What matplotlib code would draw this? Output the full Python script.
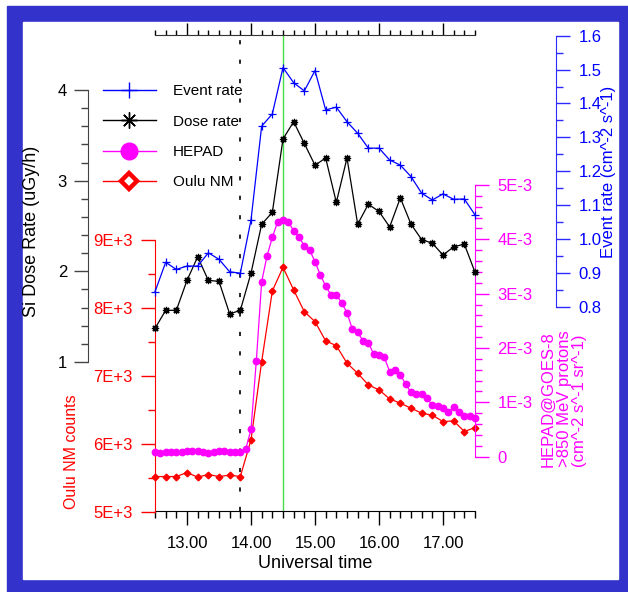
import numpy as np
import matplotlib
matplotlib.use('Agg')
import matplotlib.pyplot as plt
from matplotlib.ticker import MultipleLocator, FuncFormatter
from matplotlib.lines import Line2D
from matplotlib.patches import Rectangle

plt.rcParams['font.family'] = ['Liberation Sans', 'DejaVu Sans']
plt.rcParams['lines.scale_dashes'] = False

W, H, DPI = 628, 592, 100
PT = 72.0 / DPI

# ---------------- data ----------------
t_10min = np.linspace(12.5, 17.5, 31)
t_5min = np.linspace(12.5, 17.5, 61)

dose_rate = [1.37, 1.57, 1.57, 1.90, 2.16, 1.90, 1.89, 1.53, 1.57, 1.98,
             2.52, 2.65, 3.46, 3.65, 3.41, 3.17, 3.25, 2.76, 3.25, 2.52,
             2.74, 2.66, 2.49, 2.81, 2.52, 2.35, 2.31, 2.18, 2.27, 2.30, 1.99]

event_rate = [0.844, 0.931, 0.910, 0.920, 0.920, 0.959, 0.940, 0.903, 0.899, 1.056,
              1.333, 1.369, 1.506, 1.461, 1.437, 1.497, 1.381, 1.389, 1.346, 1.312,
              1.268, 1.268, 1.233, 1.218, 1.184, 1.135, 1.115, 1.133, 1.117, 1.118, 1.071]

hepad_e3 = [0.092, 0.074, 0.092, 0.086, 0.086, 0.092, 0.098, 0.105, 0.098, 0.092,
            0.074, 0.086, 0.100, 0.098, 0.092, 0.092, 0.092, 0.135, 0.503, 1.767,
            3.221, 3.693, 4.037, 4.324, 4.356, 4.319, 4.160, 4.040, 3.880, 3.800,
            3.590, 3.344, 3.140, 2.976, 2.976, 2.834, 2.650, 2.350, 2.289, 2.135,
            2.098, 1.890, 1.870, 1.830, 1.564, 1.595, 1.503, 1.338, 1.185, 1.154,
            1.154, 1.074, 0.951, 0.939, 0.890, 0.828, 0.909, 0.828, 0.754, 0.754, 0.707]
hepad = [v * 1e-3 for v in hepad_e3]

oulu_nm = [5515, 5515, 5515, 5574, 5506, 5545, 5515, 5536, 5515, 6056,
           7208, 8249, 8598, 8264, 7944, 7797, 7513, 7444, 7185, 7037,
           6865, 6792, 6659, 6596, 6522, 6449, 6419, 6325, 6335, 6178, 6237]

x_major = [13, 14, 15, 16, 17]
onset_time = 13.833
peak_time = 14.5

BLUE = '#0000ff'
BLUE_AX = '#2a2aff'
MAG = '#ff00ff'
RED = '#ff0000'
GREEN = '#44dd44'
FRAME = '#3333cc'


def fx(px):
    return px / W


def fy(py):
    return 1 - py / H


fig = plt.figure(figsize=(W / DPI, H / DPI), dpi=DPI, facecolor='white')

# frame
fig.patches.append(Rectangle((fx(7), fy(592)), fx(628) - fx(7), fy(6) - fy(592),
                             transform=fig.transFigure, color=FRAME, zorder=-3))
fig.patches.append(Rectangle((fx(22.7), fy(579)), fx(618.3) - fx(22.7), fy(21.5) - fy(579),
                             transform=fig.transFigure, color='white', zorder=-2))


def axes_at(x0, x1, ytop, ybot):
    return fig.add_axes([fx(x0), fy(ybot), fx(x1) - fx(x0), (ybot - ytop) / H])


# ---------- base axes (time axis) ----------
ax = axes_at(155, 475, 35, 511)
ax.patch.set_visible(False)
ax.set_xlim(12.5, 17.5)
ax.set_ylim(0, 1)
ax.spines['left'].set_visible(False)
ax.spines['right'].set_visible(False)
ax.spines['top'].set_color('#333333')
ax.set_yticks([])
ax.xaxis.set_major_locator(plt.FixedLocator(x_major))
ax.xaxis.set_minor_locator(MultipleLocator(1 / 6))
ax.xaxis.set_major_formatter(FuncFormatter(lambda v, p: f"{v:.2f}"))
ax.tick_params(axis='x', which='major', direction='out', length=14 * PT, width=1,
               labelsize=12, pad=8, top=True, bottom=True)
ax.tick_params(axis='x', which='minor', direction='out', length=7 * PT, width=1,
               top=True, bottom=True)
for tk in ax.xaxis.get_major_ticks():
    tk.tick2line.set_markersize(12 * PT)
for tk in ax.xaxis.get_minor_ticks():
    tk.tick2line.set_markersize(5 * PT)
ax.axvline(peak_time, color=GREEN, lw=1.0, zorder=1)
ax.axvline(onset_time, color='black', lw=1.2, dashes=(3.0, 11.0), zorder=1)


def overlay(x0, x1, ytop, ybot, ylim, side, outward_px, color, major, minor, fmt):
    a = axes_at(x0, x1, ytop, ybot)
    a.patch.set_visible(False)
    a.set_xlim(12.5, 17.5)
    a.set_ylim(*ylim)
    a.xaxis.set_visible(False)
    for s in ['top', 'bottom', 'left', 'right']:
        a.spines[s].set_visible(s == side)
    a.spines[side].set_color(color)
    a.spines[side].set_position(('outward', outward_px * PT))
    if side == 'right':
        a.yaxis.tick_right()
    else:
        a.yaxis.tick_left()
    a.yaxis.set_major_locator(MultipleLocator(major))
    a.yaxis.set_minor_locator(MultipleLocator(minor))
    a.yaxis.set_major_formatter(FuncFormatter(fmt))
    a.tick_params(axis='y', which='major', direction='out', length=14 * PT, width=1,
                  color=color, labelcolor=color, labelsize=12, pad=6)
    a.tick_params(axis='y', which='minor', direction='out', length=7 * PT, width=1,
                  color=color)
    return a


ax_oulu = overlay(155, 475, 240, 511.5, (5000, 9000), 'left', 0, RED, 1000, 500,
                  lambda v, p: f"{int(round(v / 1000))}E+3")
ax_hep = overlay(155, 475, 185, 456.7, (0, 5e-3), 'right', 0, MAG, 1e-3, 0.2e-3,
                 lambda v, p: "0" if abs(v) < 1e-9 else f"{int(round(v * 1e3))}E-3")
ax_dose = overlay(155, 475, 90, 362, (1, 4), 'left', 67, '#444444', 1, 0.2,
                  lambda v, p: f"{int(round(v))}")
ax_evt = overlay(155, 475, 35.7, 306.7, (0.8, 1.6), 'right', 81, BLUE_AX, 0.1, 0.05,
                 lambda v, p: f"{v:.1f}")
ax_dose.tick_params(axis='y', labelcolor='black', pad=5)
ax_evt.tick_params(axis='y', labelcolor=BLUE)

ax_oulu.plot(t_10min, oulu_nm, color=RED, lw=0.9, marker='D', ms=3.4, mec=RED, mfc=RED,
             clip_on=False)
ax_hep.plot(t_5min, hepad, color=MAG, lw=0.9, marker='o', ms=4.6, mec=MAG, mfc=MAG,
            clip_on=False)
ax_dose.plot(t_10min, dose_rate, color='black', lw=0.9, marker=(8, 2, 0), ms=5.2, mew=0.9,
             clip_on=False)
ax_evt.plot(t_10min, event_rate, color=BLUE, lw=0.9, marker='+', ms=5.5, mew=0.9,
            clip_on=False)

# legend
handles = [
    Line2D([], [], color=BLUE, lw=1, marker='+', ms=11.5, mew=1),
    Line2D([], [], color='black', lw=1, marker=(8, 2, 0), ms=11.5, mew=1),
    Line2D([], [], color=MAG, lw=1, marker='o', ms=12, mfc=MAG, mec=MAG),
    Line2D([], [], color=RED, lw=1, marker='D', ms=8, mfc='white', mec=RED, mew=3.2),
]
labels = ['Event rate', 'Dose rate', 'HEPAD', 'Oulu NM']
fig.legend(handles, labels, loc='upper left', bbox_to_anchor=(fx(103), fy(84)),
           frameon=False, fontsize=11, handlelength=3.45, handletextpad=1.1,
           labelspacing=1.08, borderaxespad=0, borderpad=0)

# axis titles
fig.text(fx(32), fy(231), 'Si Dose Rate (uGy/h)', rotation=90, ha='center', va='center',
         fontsize=13, color='black')
fig.text(fx(72), fy(452), 'Oulu NM counts', rotation=90, ha='center', va='center',
         fontsize=11.5, color=RED)
fig.text(fx(609), fy(172), 'Event rate (cm^-2 s^-1)', rotation=90, ha='center', va='center',
         fontsize=12, color=BLUE)
fig.text(fx(564), fy(467), 'HEPAD@GOES-8\n>850 MeV protons\n(cm^-2 s^-1 sr^-1)',
         rotation=90, ha='center', va='bottom', multialignment='left',
         fontsize=12, color=MAG, linespacing=1.08)
fig.text(fx(315), fy(563), 'Universal time', ha='center', va='center', fontsize=13)

fig.savefig('out.png', dpi=DPI, facecolor='white')
